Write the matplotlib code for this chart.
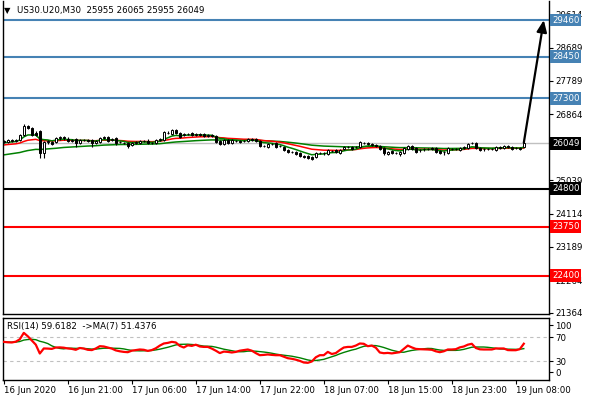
import numpy as np
import pandas as pd
import matplotlib
matplotlib.use("Agg")
import matplotlib.pyplot as plt
import matplotlib.transforms as mtransforms

plt.rcParams['font.family'] = ['DejaVu Sans']

# US30.U20 M30 candles
opens = [26118, 26090, 26146, 26118, 26146, 26284, 26533, 26477, 26339, 26394,
         25786, 26090, 26090, 26090, 26201, 26229, 26173, 26118, 26173, 26063,
         26146, 26146, 26146, 26063, 26090, 26201, 26229, 26146, 26201, 26090,
         26063, 26063, 26008, 26063, 26063, 26118, 26118, 26063, 26063, 26146,
         26146, 26339, 26312, 26422, 26339, 26284, 26312, 26339, 26284, 26312,
         26312, 26256, 26284, 26256, 26118, 26035, 26146, 26063, 26118, 26118,
         26118, 26118, 26173, 26173, 26118, 25980, 25952, 26035, 26063, 25980,
         25952, 25869, 25814, 25814, 25786, 25704, 25704, 25676, 25676, 25786,
         25786, 25759, 25842, 25869, 25786, 25897, 25952, 25952, 25952, 25952,
         26063, 26063, 26035, 26008, 25980, 25925, 25759, 25842, 25786, 25759,
         25786, 25897, 25980, 25925, 25869, 25897, 25897, 25925, 25925, 25842,
         25814, 25786, 25897, 25897, 25869, 25925, 25925, 26063, 26063, 25925,
         25897, 25897, 25897, 25869, 25952, 25925, 25980, 25952, 25925, 25925,
         25955]
closes = [26090, 26146, 26118, 26146, 26284, 26533, 26477, 26284, 26284, 25786,
          26090, 26118, 26035, 26201, 26229, 26201, 26118, 26146, 26063, 26146,
          26140, 26118, 26063, 26118, 26201, 26229, 26118, 26173, 26063, 26085,
          26058, 25980, 26063, 26090, 26118, 26113, 26063, 26058, 26146, 26173,
          26367, 26334, 26422, 26339, 26229, 26312, 26306, 26284, 26312, 26284,
          26256, 26284, 26256, 26090, 26035, 26146, 26063, 26146, 26113, 26090,
          26113, 26173, 26146, 26118, 25980, 25975, 26035, 26030, 25952, 25975,
          25869, 25814, 25809, 25759, 25704, 25676, 25648, 25621, 25786, 25781,
          25781, 25869, 25837, 25814, 25869, 25952, 25947, 25897, 25947, 26090,
          26058, 26035, 26008, 25980, 25897, 25786, 25814, 25786, 25781, 25814,
          25925, 25980, 25897, 25814, 25864, 25892, 25892, 25897, 25814, 25786,
          25809, 25925, 25892, 25892, 25925, 25952, 26035, 26058, 25925, 25869,
          25892, 25892, 25892, 25952, 25925, 25980, 25952, 25897, 25920, 25897,
          26049]
highs = [26146, 26173, 26173, 26173, 26312, 26588, 26560, 26505, 26394, 26422,
         26118, 26146, 26118, 26229, 26256, 26256, 26229, 26173, 26201, 26173,
         26173, 26173, 26173, 26146, 26229, 26256, 26256, 26201, 26229, 26118,
         26090, 26090, 26090, 26118, 26146, 26146, 26173, 26090, 26173, 26201,
         26394, 26394, 26450, 26450, 26367, 26339, 26339, 26367, 26339, 26339,
         26339, 26312, 26312, 26284, 26146, 26173, 26173, 26173, 26146, 26146,
         26146, 26201, 26201, 26201, 26146, 26008, 26063, 26063, 26090, 26008,
         25980, 25897, 25842, 25842, 25814, 25731, 25731, 25704, 25814, 25814,
         25814, 25897, 25869, 25897, 25897, 25980, 25980, 25980, 25980, 26118,
         26090, 26090, 26063, 26035, 26008, 25952, 25842, 25869, 25814, 25842,
         25952, 26008, 26008, 25952, 25897, 25925, 25925, 25952, 25952, 25869,
         25842, 25952, 25925, 25925, 25952, 25980, 26063, 26090, 26090, 25952,
         25925, 25925, 25925, 25980, 25980, 26008, 26008, 25980, 25952, 25952,
         26065]
lows = [26063, 26063, 26090, 26090, 26118, 26256, 26450, 26256, 26256, 25648,
        25648, 26035, 26008, 26063, 26146, 26146, 26090, 26090, 25952, 26035,
        26118, 26090, 25952, 26035, 26063, 26173, 26090, 26118, 26008, 26063,
        26035, 25925, 25980, 26035, 26035, 26090, 26035, 26035, 26035, 26118,
        26118, 26312, 26284, 26312, 26201, 26256, 26284, 26256, 26256, 26256,
        26229, 26229, 26229, 26063, 26008, 26008, 26035, 26035, 26090, 26063,
        26090, 26090, 26118, 26090, 25952, 25952, 25925, 26008, 25925, 25952,
        25842, 25786, 25786, 25731, 25676, 25648, 25621, 25593, 25648, 25759,
        25731, 25731, 25814, 25786, 25759, 25869, 25925, 25869, 25925, 25925,
        26035, 26008, 25980, 25952, 25869, 25731, 25731, 25759, 25759, 25704,
        25759, 25869, 25869, 25786, 25814, 25842, 25869, 25869, 25786, 25759,
        25731, 25759, 25869, 25869, 25842, 25897, 25897, 26035, 25897, 25842,
        25842, 25869, 25869, 25842, 25897, 25897, 25925, 25869, 25897, 25869,
        25955]

# RSI(14) line
rsi = [62.7, 62, 61.7, 63, 67, 77.7, 72, 65, 58, 43.3,
       51.7, 51.5, 51, 53.3, 53.5, 53, 51.7, 51, 49.5, 52.5,
       51.5, 49.5, 49, 51.7, 55.5, 55, 53.3, 51.5, 48.5, 47,
       46, 45.5, 48, 49, 50, 49.5, 47.7, 49, 52, 56.5,
       60, 61, 62.7, 61.7, 56, 53.3, 57, 56, 58, 55,
       54.3, 54.3, 51.5, 48, 44, 46.5, 46, 45, 46, 48,
       49, 50, 48, 44, 40.5, 41, 41.7, 41, 40.5, 40.5,
       38, 35.5, 34.5, 33, 31, 28.3, 27.8, 30, 37, 40.5,
       40.5, 46, 42.5, 44, 49, 53.3, 54.3, 54.3, 56.5, 60,
       59.5, 55.5, 56.5, 53, 45, 43.8, 44.3, 43.5, 44.5, 45.5,
       51, 56.5, 53.5, 51, 50.5, 50.3, 50, 49.5, 47, 45.5,
       47, 50, 50, 50.5, 53.5, 55, 58, 59.5, 52.5, 50.3,
       50, 50, 50, 51.7, 51.7, 51.7, 49, 48.8, 48.8, 50.5,
       59.6]

# starting levels of the moving averages at the left edge
ma_red_start = 26000
ma_green_start = 26060
ma_slow_start = 25720

date_ticks = [0, 16, 32, 48, 64, 80, 96, 112, 128]
date_labels = ["16 Jun 2020", "16 Jun 21:00", "17 Jun 06:00", "17 Jun 14:00",
               "17 Jun 22:00", "18 Jun 07:00", "18 Jun 15:00", "18 Jun 23:00",
               "19 Jun 08:00"]
price_ticks = [21364, 22264, 23189, 24114, 25039, 25939, 26864, 27789, 28689, 29614]
hidden_ticks = [25939]  # sits under the current-price box

blue_levels = [29460, 28450, 27300]
black_level = 24800
red_levels = [23750, 22400]
last_price = 26049
target_price = 29460

n = len(closes)
idx = np.arange(n)
o = np.array(opens, float)
c = np.array(closes, float)
h = np.array(highs, float)
l = np.array(lows, float)


def ema(start, values, span):
    s = pd.Series([start] + list(values), dtype=float)
    return s.ewm(span=span, adjust=False).mean().values[1:]


ma_red = ema(ma_red_start, closes, 21)
ma_green = ema(ma_green_start, closes, 8)
ma_slow = ema(ma_slow_start, closes, 50)
rsi_ma = pd.Series(rsi).rolling(7, min_periods=1).mean().values

fig = plt.figure(figsize=(5.9, 4.0), dpi=100)
W, H = 590.0, 400.0
ax = fig.add_axes([3 / W, 1 - 314 / H, 546 / W, 313 / H])
ax2 = fig.add_axes([3 / W, 1 - 379.5 / H, 546 / W, 62 / H], sharex=ax)

fs = 6.2

# main price panel
for lv in blue_levels:
    ax.axhline(lv, color='#4682B4', lw=1.5, zorder=1)
ax.axhline(black_level, color='black', lw=1.5, zorder=1)
for lv in red_levels:
    ax.axhline(lv, color='#FF0000', lw=1.5, zorder=1)
ax.axhline(last_price, color='#C0C0C0', lw=1.0, zorder=1)

ax.plot(idx, ma_slow, color='#008000', lw=1.1, zorder=2)
ax.plot(idx, ma_red, color='#FF0000', lw=1.1, zorder=2)
ax.plot(idx, ma_green, color='#008000', lw=1.1, zorder=2)

ax.vlines(idx, l, h, color='black', lw=0.8, zorder=3)
up = c >= o
body = np.maximum(np.abs(c - o), 8)
bottoms = np.minimum(o, c)
ax.bar(idx[up], body[up], bottom=bottoms[up], width=0.6, color='white',
       edgecolor='black', linewidth=0.7, zorder=4)
ax.bar(idx[~up], body[~up], bottom=bottoms[~up], width=0.6, color='black',
       edgecolor='black', linewidth=0.7, zorder=4)

ax.annotate('', xy=(135, target_price), xytext=(130, last_price + 20),
            arrowprops=dict(arrowstyle='-|>,head_length=0.7,head_width=0.3',
                            color='black', lw=1.6, shrinkA=0, shrinkB=0),
            annotation_clip=False, zorder=6)

ax.set_xlim(-0.2, 136.3)
ax.set_ylim(21336, 29988)
ax.yaxis.tick_right()
ax.set_yticks(price_ticks)
ax.set_yticklabels(['' if t in hidden_ticks else str(t) for t in price_ticks])
ax.tick_params(axis='y', direction='out', length=3, width=0.8, pad=1.5,
               labelsize=fs, colors='black')
ax.tick_params(axis='x', bottom=False, labelbottom=False)
for sp in ax.spines.values():
    sp.set_linewidth(1.0)
ax.spines['top'].set_visible(False)

trans = mtransforms.blended_transform_factory(ax.transAxes, ax.transData)
boxes = [(lv, '#4682B4') for lv in blue_levels] + [(last_price, 'black'), (black_level, 'black')] \
    + [(lv, '#FF0000') for lv in red_levels]
for lv, col in boxes:
    ax.text(1.0055, lv, str(lv), transform=trans, ha='left', va='center',
            fontsize=fs, color='white', zorder=10, clip_on=False,
            bbox=dict(boxstyle='square,pad=0.22', fc=col, ec='none'))

ax.text(0.002, 0.971, '\u25BC', transform=ax.transAxes, fontsize=6,
        ha='left', va='center', color='black')
ax.text(0.0256, 0.971, 'US30.U20,M30  25955 26065 25955 26049',
        transform=ax.transAxes, fontsize=fs, ha='left', va='center', color='black')

# RSI panel
ax2.axhline(70, color='#C0C0C0', lw=0.8, ls=(0, (3, 3)), zorder=1)
ax2.axhline(30, color='#C0C0C0', lw=0.8, ls=(0, (3, 3)), zorder=1)
ax2.plot(idx, rsi_ma, color='#008000', lw=1.0, zorder=2)
ax2.plot(idx, rsi, color='#FF0000', lw=1.6, zorder=3)
ax2.set_ylim(0, 103.3)
ax2.yaxis.tick_right()
ax2.set_yticks([11.7, 30, 70, 90.5])
ax2.set_yticklabels(['0', '30', '70', '100'])
ax2.tick_params(axis='y', direction='out', length=3, width=0.8, pad=1.5,
                labelsize=fs, colors='black')
ax2.set_xticks(date_ticks)
ax2.set_xticklabels(date_labels, ha='left')
ax2.tick_params(axis='x', direction='out', length=3, width=0.8, pad=2,
                labelsize=fs, colors='black')
for sp in ax2.spines.values():
    sp.set_linewidth(1.0)
ax2.text(0.007, 0.85, 'RSI(14) 59.6182  ->MA(7) 51.4376', transform=ax2.transAxes,
         fontsize=fs, ha='left', va='center', color='black')

fig.savefig('out.png', dpi=100, facecolor='white')
